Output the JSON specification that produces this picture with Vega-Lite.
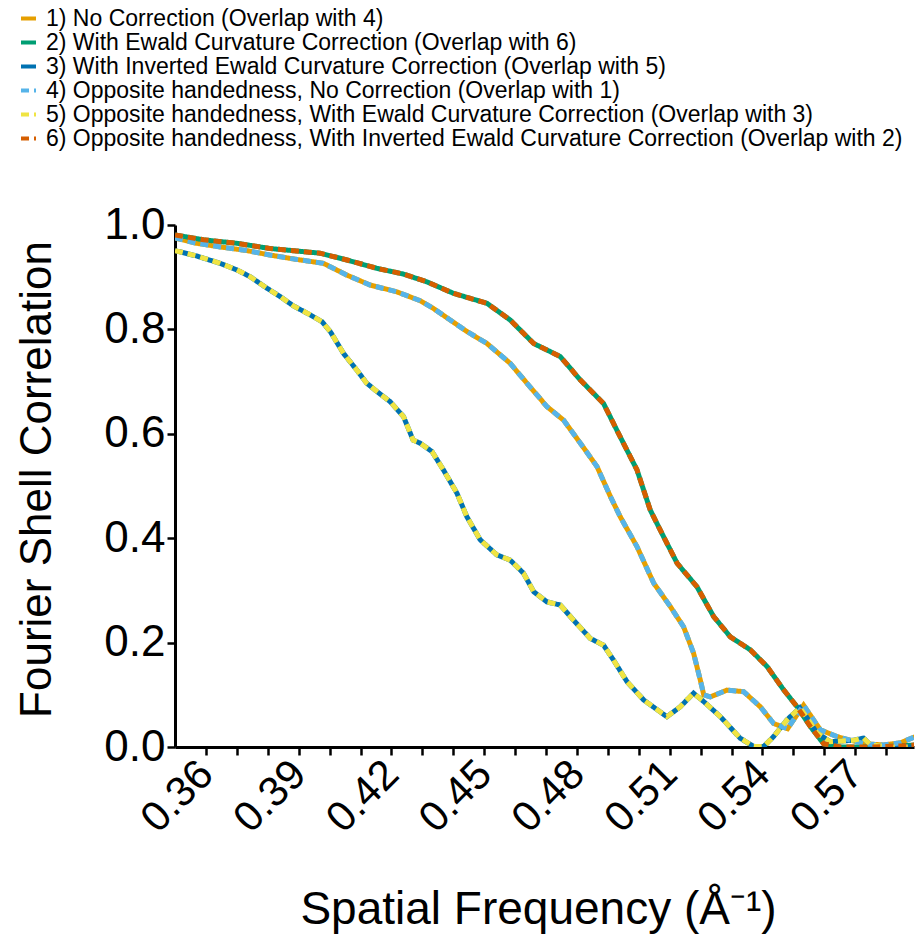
{
"$schema": "https://vega.github.io/schema/vega-lite/v6.json",
"width": 739, "height": 522,
"autosize": {"type": "none"},
"padding": {"left": 175, "top": 225, "right": 1, "bottom": 196},
"background": "white",
"config": {"view": {"stroke": null}, "font": "Liberation Sans"},
"data": {"values": [
{"k":"1","x":0.35,"y":0.975},{"k":"1","x":0.357,"y":0.965},{"k":"1","x":0.3646,"y":0.958},{"k":"1","x":0.3732,"y":0.951},{"k":"1","x":0.3807,"y":0.9425},{"k":"1","x":0.3894,"y":0.934},{"k":"1","x":0.398,"y":0.9266},{"k":"1","x":0.4056,"y":0.904},{"k":"1","x":0.4131,"y":0.885},{"k":"1","x":0.4217,"y":0.872},{"k":"1","x":0.4293,"y":0.855},{"k":"1","x":0.4336,"y":0.84},{"k":"1","x":0.4444,"y":0.796},{"k":"1","x":0.4509,"y":0.773},{"k":"1","x":0.4584,"y":0.735},{"k":"1","x":0.4638,"y":0.697},{"k":"1","x":0.4703,"y":0.652},{"k":"1","x":0.4757,"y":0.626},{"k":"1","x":0.4811,"y":0.582},{"k":"1","x":0.4865,"y":0.537},{"k":"1","x":0.4908,"y":0.48},{"k":"1","x":0.494,"y":0.441},{"k":"1","x":0.4994,"y":0.384},{"k":"1","x":0.5048,"y":0.314},{"k":"1","x":0.5102,"y":0.269},{"k":"1","x":0.5145,"y":0.23},{"k":"1","x":0.5177,"y":0.18},{"k":"1","x":0.5199,"y":0.128},{"k":"1","x":0.521,"y":0.1},{"k":"1","x":0.5231,"y":0.096},{"k":"1","x":0.5285,"y":0.109},{"k":"1","x":0.5339,"y":0.106},{"k":"1","x":0.5393,"y":0.077},{"k":"1","x":0.5436,"y":0.045},{"k":"1","x":0.5481,"y":0.035},{"k":"1","x":0.5533,"y":0.08},{"k":"1","x":0.5587,"y":0.033},{"k":"1","x":0.5641,"y":0.02},{"k":"1","x":0.5684,"y":0.013},{"k":"1","x":0.5733,"y":0.006},{"k":"1","x":0.5791,"y":0.004},{"k":"1","x":0.5846,"y":0.008},{"k":"1","x":0.5895,"y":0.02},
{"k":"2","x":0.35,"y":0.981},{"k":"2","x":0.3592,"y":0.9716},{"k":"2","x":0.37,"y":0.965},{"k":"2","x":0.3807,"y":0.955},{"k":"2","x":0.3915,"y":0.949},{"k":"2","x":0.3969,"y":0.946},{"k":"2","x":0.4056,"y":0.933},{"k":"2","x":0.4153,"y":0.917},{"k":"2","x":0.4239,"y":0.906},{"k":"2","x":0.4315,"y":0.891},{"k":"2","x":0.4401,"y":0.869},{"k":"2","x":0.4509,"y":0.85},{"k":"2","x":0.4584,"y":0.818},{"k":"2","x":0.466,"y":0.773},{"k":"2","x":0.4746,"y":0.748},{"k":"2","x":0.4811,"y":0.703},{"k":"2","x":0.4886,"y":0.658},{"k":"2","x":0.494,"y":0.594},{"k":"2","x":0.4994,"y":0.531},{"k":"2","x":0.5037,"y":0.454},{"k":"2","x":0.508,"y":0.403},{"k":"2","x":0.5124,"y":0.352},{"k":"2","x":0.5188,"y":0.307},{"k":"2","x":0.5242,"y":0.25},{"k":"2","x":0.5296,"y":0.211},{"k":"2","x":0.5361,"y":0.186},{"k":"2","x":0.5415,"y":0.154},{"k":"2","x":0.5469,"y":0.109},{"k":"2","x":0.5512,"y":0.077},{"k":"2","x":0.5555,"y":0.039},{"k":"2","x":0.5598,"y":0.006},{"k":"2","x":0.5652,"y":0.0},{"k":"2","x":0.575,"y":0.0},{"k":"2","x":0.5846,"y":0.002},{"k":"2","x":0.5895,"y":0.004},
{"k":"3","x":0.35,"y":0.951},{"k":"3","x":0.357,"y":0.9406},{"k":"3","x":0.3646,"y":0.9266},{"k":"3","x":0.37,"y":0.914},{"k":"3","x":0.3743,"y":0.901},{"k":"3","x":0.3797,"y":0.879},{"k":"3","x":0.384,"y":0.863},{"k":"3","x":0.3883,"y":0.845},{"k":"3","x":0.3937,"y":0.828},{"k":"3","x":0.3975,"y":0.815},{"k":"3","x":0.4002,"y":0.796},{"k":"3","x":0.4045,"y":0.754},{"k":"3","x":0.4088,"y":0.722},{"k":"3","x":0.412,"y":0.697},{"k":"3","x":0.4153,"y":0.681},{"k":"3","x":0.4196,"y":0.6615},{"k":"3","x":0.4239,"y":0.633},{"k":"3","x":0.427,"y":0.588},{"k":"3","x":0.4293,"y":0.582},{"k":"3","x":0.4331,"y":0.566},{"k":"3","x":0.4368,"y":0.531},{"k":"3","x":0.4412,"y":0.486},{"k":"3","x":0.4444,"y":0.441},{"k":"3","x":0.4487,"y":0.397},{"k":"3","x":0.4541,"y":0.368},{"k":"3","x":0.4584,"y":0.358},{"k":"3","x":0.4627,"y":0.333},{"k":"3","x":0.466,"y":0.2975},{"k":"3","x":0.4703,"y":0.278},{"k":"3","x":0.4746,"y":0.272},{"k":"3","x":0.4789,"y":0.243},{"k":"3","x":0.4843,"y":0.208},{"k":"3","x":0.4886,"y":0.195},{"k":"3","x":0.4918,"y":0.1667},{"k":"3","x":0.4962,"y":0.125},{"k":"3","x":0.5016,"y":0.09},{"k":"3","x":0.5091,"y":0.058},{"k":"3","x":0.5134,"y":0.077},{"k":"3","x":0.5177,"y":0.103},{"k":"3","x":0.521,"y":0.087},{"k":"3","x":0.5264,"y":0.058},{"k":"3","x":0.5328,"y":0.0167},{"k":"3","x":0.5372,"y":0.001},{"k":"3","x":0.5404,"y":0.001},{"k":"3","x":0.5436,"y":0.02},{"k":"3","x":0.5479,"y":0.052},{"k":"3","x":0.5521,"y":0.075},{"k":"3","x":0.5544,"y":0.056},{"k":"3","x":0.5576,"y":0.027},{"k":"3","x":0.562,"y":0.01},{"k":"3","x":0.5694,"y":0.013},{"k":"3","x":0.5727,"y":0.017},{"k":"3","x":0.5749,"y":0.004},{"k":"3","x":0.5814,"y":0.0},{"k":"3","x":0.5895,"y":0.0},
{"k":"4","x":0.35,"y":0.975},{"k":"4","x":0.357,"y":0.965},{"k":"4","x":0.3646,"y":0.958},{"k":"4","x":0.3732,"y":0.951},{"k":"4","x":0.3807,"y":0.9425},{"k":"4","x":0.3894,"y":0.934},{"k":"4","x":0.398,"y":0.9266},{"k":"4","x":0.4056,"y":0.904},{"k":"4","x":0.4131,"y":0.885},{"k":"4","x":0.4217,"y":0.872},{"k":"4","x":0.4293,"y":0.855},{"k":"4","x":0.4336,"y":0.84},{"k":"4","x":0.4444,"y":0.796},{"k":"4","x":0.4509,"y":0.773},{"k":"4","x":0.4584,"y":0.735},{"k":"4","x":0.4638,"y":0.697},{"k":"4","x":0.4703,"y":0.652},{"k":"4","x":0.4757,"y":0.626},{"k":"4","x":0.4811,"y":0.582},{"k":"4","x":0.4865,"y":0.537},{"k":"4","x":0.4908,"y":0.48},{"k":"4","x":0.494,"y":0.441},{"k":"4","x":0.4994,"y":0.384},{"k":"4","x":0.5048,"y":0.314},{"k":"4","x":0.5102,"y":0.269},{"k":"4","x":0.5145,"y":0.23},{"k":"4","x":0.5177,"y":0.18},{"k":"4","x":0.5199,"y":0.128},{"k":"4","x":0.521,"y":0.1},{"k":"4","x":0.5231,"y":0.096},{"k":"4","x":0.5285,"y":0.109},{"k":"4","x":0.5339,"y":0.106},{"k":"4","x":0.5393,"y":0.077},{"k":"4","x":0.5436,"y":0.045},{"k":"4","x":0.5481,"y":0.035},{"k":"4","x":0.5533,"y":0.08},{"k":"4","x":0.5587,"y":0.033},{"k":"4","x":0.5641,"y":0.02},{"k":"4","x":0.5684,"y":0.013},{"k":"4","x":0.5733,"y":0.006},{"k":"4","x":0.5791,"y":0.004},{"k":"4","x":0.5846,"y":0.008},{"k":"4","x":0.5895,"y":0.02},
{"k":"5","x":0.35,"y":0.951},{"k":"5","x":0.357,"y":0.9406},{"k":"5","x":0.3646,"y":0.9266},{"k":"5","x":0.37,"y":0.914},{"k":"5","x":0.3743,"y":0.901},{"k":"5","x":0.3797,"y":0.879},{"k":"5","x":0.384,"y":0.863},{"k":"5","x":0.3883,"y":0.845},{"k":"5","x":0.3937,"y":0.828},{"k":"5","x":0.3975,"y":0.815},{"k":"5","x":0.4002,"y":0.796},{"k":"5","x":0.4045,"y":0.754},{"k":"5","x":0.4088,"y":0.722},{"k":"5","x":0.412,"y":0.697},{"k":"5","x":0.4153,"y":0.681},{"k":"5","x":0.4196,"y":0.6615},{"k":"5","x":0.4239,"y":0.633},{"k":"5","x":0.427,"y":0.588},{"k":"5","x":0.4293,"y":0.582},{"k":"5","x":0.4331,"y":0.566},{"k":"5","x":0.4368,"y":0.531},{"k":"5","x":0.4412,"y":0.486},{"k":"5","x":0.4444,"y":0.441},{"k":"5","x":0.4487,"y":0.397},{"k":"5","x":0.4541,"y":0.368},{"k":"5","x":0.4584,"y":0.358},{"k":"5","x":0.4627,"y":0.333},{"k":"5","x":0.466,"y":0.2975},{"k":"5","x":0.4703,"y":0.278},{"k":"5","x":0.4746,"y":0.272},{"k":"5","x":0.4789,"y":0.243},{"k":"5","x":0.4843,"y":0.208},{"k":"5","x":0.4886,"y":0.195},{"k":"5","x":0.4918,"y":0.1667},{"k":"5","x":0.4962,"y":0.125},{"k":"5","x":0.5016,"y":0.09},{"k":"5","x":0.5091,"y":0.058},{"k":"5","x":0.5134,"y":0.077},{"k":"5","x":0.5177,"y":0.103},{"k":"5","x":0.521,"y":0.087},{"k":"5","x":0.5264,"y":0.058},{"k":"5","x":0.5328,"y":0.0167},{"k":"5","x":0.5372,"y":0.001},{"k":"5","x":0.5404,"y":0.001},{"k":"5","x":0.5436,"y":0.02},{"k":"5","x":0.5479,"y":0.052},{"k":"5","x":0.5521,"y":0.075},{"k":"5","x":0.5544,"y":0.056},{"k":"5","x":0.5576,"y":0.027},{"k":"5","x":0.562,"y":0.01},{"k":"5","x":0.5694,"y":0.013},{"k":"5","x":0.5727,"y":0.017},{"k":"5","x":0.5749,"y":0.004},{"k":"5","x":0.5814,"y":0.0},{"k":"5","x":0.5895,"y":0.0},
{"k":"6","x":0.35,"y":0.981},{"k":"6","x":0.3592,"y":0.9716},{"k":"6","x":0.37,"y":0.965},{"k":"6","x":0.3807,"y":0.955},{"k":"6","x":0.3915,"y":0.949},{"k":"6","x":0.3969,"y":0.946},{"k":"6","x":0.4056,"y":0.933},{"k":"6","x":0.4153,"y":0.917},{"k":"6","x":0.4239,"y":0.906},{"k":"6","x":0.4315,"y":0.891},{"k":"6","x":0.4401,"y":0.869},{"k":"6","x":0.4509,"y":0.85},{"k":"6","x":0.4584,"y":0.818},{"k":"6","x":0.466,"y":0.773},{"k":"6","x":0.4746,"y":0.748},{"k":"6","x":0.4811,"y":0.703},{"k":"6","x":0.4886,"y":0.658},{"k":"6","x":0.494,"y":0.594},{"k":"6","x":0.4994,"y":0.531},{"k":"6","x":0.5037,"y":0.454},{"k":"6","x":0.508,"y":0.403},{"k":"6","x":0.5124,"y":0.352},{"k":"6","x":0.5188,"y":0.307},{"k":"6","x":0.5242,"y":0.25},{"k":"6","x":0.5296,"y":0.211},{"k":"6","x":0.5361,"y":0.186},{"k":"6","x":0.5415,"y":0.154},{"k":"6","x":0.5469,"y":0.109},{"k":"6","x":0.5512,"y":0.077},{"k":"6","x":0.5555,"y":0.039},{"k":"6","x":0.5598,"y":0.006},{"k":"6","x":0.5652,"y":0.0},{"k":"6","x":0.575,"y":0.0},{"k":"6","x":0.5846,"y":0.002},{"k":"6","x":0.5895,"y":0.004}
]},
"mark": {"type": "line", "strokeWidth": 5, "clip": true},
"encoding": {
  "x": {"field": "x", "type": "quantitative",
    "scale": {"domain": [0.35, 0.589], "nice": false, "zero": false},
    "axis": {"title": "Spatial Frequency (Å⁻¹)", "grid": false,
      "values": [0.36,0.37,0.38,0.39,0.4,0.41,0.42,0.43,0.44,0.45,0.46,0.47,0.48,0.49,0.5,0.51,0.52,0.53,0.54,0.55,0.56,0.57,0.58],
      "labelExpr": "round(datum.value*100) % 3 == 0 ? format(datum.value, '.2f') : ''",
      "labelAngle": -45, "labelAlign": "right", "labelBaseline": "middle", "labelFontSize": 42, "labelPadding": 12,
      "labelColor": "black", "labelOverlap": false, "labelFlush": false,
      "tickSize": 8, "tickWidth": 2.5, "tickColor": "black", "domainColor": "black", "domainWidth": 3,
      "titleFontSize": 46, "titleFontWeight": "normal", "titleColor": "black", "titleBaseline": "alphabetic", "titleY": 176, "titleX": 363}},
  "y": {"field": "y", "type": "quantitative",
    "scale": {"domain": [0, 1], "nice": false},
    "axis": {"title": "Fourier Shell Correlation", "grid": false, "values": [0, 0.2, 0.4, 0.6, 0.8, 1.0], "format": ".1f",
      "labelFontSize": 44, "labelPadding": 2, "labelColor": "black",
      "tickSize": 8, "tickWidth": 2.5, "tickColor": "black", "domainColor": "black", "domainWidth": 3,
      "titleFontSize": 44, "titleFontWeight": "normal", "titleColor": "black", "titleBaseline": "alphabetic", "titleX": -125, "titleY": 254}},
  "color": {"field": "k", "type": "nominal",
    "scale": {"domain": ["1","2","3","4","5","6"], "range": ["#E69F00","#009E73","#0072B2","#56B4E9","#F0E442","#D55E00"]},
    "legend": {"orient": "none", "legendX": -158, "legendY": -218, "title": null, "direction": "vertical",
      "symbolType": "stroke", "symbolStrokeWidth": 4, "symbolSize": 225, "labelFontSize": 23, "labelColor": "black",
      "labelLimit": 1000, "labelOffset": 6, "rowPadding": 0, "padding": 0,
      "labelExpr": "datum.label == '1' ? '1) No Correction (Overlap with 4)' : datum.label == '2' ? '2) With Ewald Curvature Correction (Overlap with 6)' : datum.label == '3' ? '3) With Inverted Ewald Curvature Correction (Overlap with 5)' : datum.label == '4' ? '4) Opposite handedness, No Correction (Overlap with 1)' : datum.label == '5' ? '5) Opposite handedness, With Ewald Curvature Correction (Overlap with 3)' : '6) Opposite handedness, With Inverted Ewald Curvature Correction (Overlap with 2)'"}},
  "strokeDash": {"field": "k", "type": "nominal",
    "scale": {"domain": ["1","2","3","4","5","6"], "range": [[1,0],[1,0],[1,0],[8,5],[8,5],[8,5]]},
    "legend": {"orient": "none", "legendX": -158, "legendY": -218, "title": null, "direction": "vertical",
      "symbolType": "stroke", "symbolStrokeWidth": 4, "symbolSize": 225, "labelFontSize": 23, "labelColor": "black",
      "labelLimit": 1000, "labelOffset": 6, "rowPadding": 0, "padding": 0,
      "labelExpr": "datum.label == '1' ? '1) No Correction (Overlap with 4)' : datum.label == '2' ? '2) With Ewald Curvature Correction (Overlap with 6)' : datum.label == '3' ? '3) With Inverted Ewald Curvature Correction (Overlap with 5)' : datum.label == '4' ? '4) Opposite handedness, No Correction (Overlap with 1)' : datum.label == '5' ? '5) Opposite handedness, With Ewald Curvature Correction (Overlap with 3)' : '6) Opposite handedness, With Inverted Ewald Curvature Correction (Overlap with 2)'"}}
}
}
